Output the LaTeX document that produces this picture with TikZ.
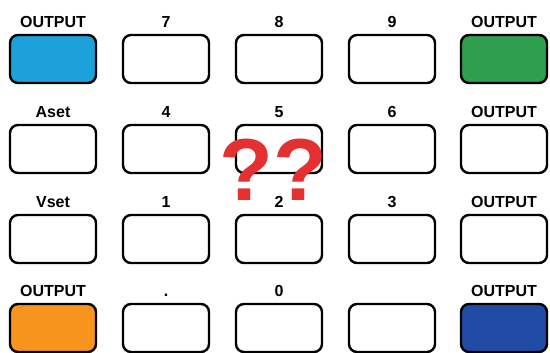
\documentclass[tikz,border=0pt]{standalone}
\usepackage{fontspec}
\setmainfont{Liberation Sans}
\usetikzlibrary{positioning}
\definecolor{keyblue}{RGB}{29,161,219}
\definecolor{keygreen}{RGB}{46,158,79}
\definecolor{keyorange}{RGB}{247,148,30}
\definecolor{keynavy}{RGB}{31,75,165}
\definecolor{qred}{RGB}{228,48,48}
\begin{document}
\begin{tikzpicture}[x=1pt, y=-1pt,
    key/.style={draw=black, line width=2.4pt, rounded corners=8pt, minimum width=86pt, minimum height=48pt, inner sep=0pt},
    keylab/.style={font=\bfseries\fontsize{16}{16}\selectfont, inner sep=0pt},
    qmark/.style={font=\bfseries\fontsize{88}{88}\selectfont, text=qred, inner sep=0pt}]
    % 1. frame
    \useasboundingbox (0,0) rectangle (550,353);

    % 2. keys and their captions
    \foreach \n/\x/\y/\f/\t in {11/53/59/keyblue/OUTPUT, 12/166/59/white/7, 13/279/59/white/8, 14/392/59/white/9, 15/504/59/keygreen/OUTPUT,
                                 21/53/149/white/Aset, 22/166/149/white/4, 23/279/149/white/5, 24/392/149/white/6, 25/504/149/white/OUTPUT,
                                 31/53/239/white/Vset, 32/166/239/white/1, 33/279/239/white/2, 34/392/239/white/3, 35/504/239/white/OUTPUT,
                                 41/53/328/keyorange/OUTPUT, 42/166/328/white/., 43/279/328/white/0, 44/392/328/white/, 45/504/328/keynavy/OUTPUT}
    {
        \node[key, fill=\f] (k\n) at (\x,\y) {};
        \node[keylab, above=6pt of k\n] (l\n) {\t};
    }

    % 3. question marks on top
    \node[qmark] (q1) at (246,170) {?};
    \node[qmark] (q2) at (300,170) {?};
\end{tikzpicture}
\end{document}
